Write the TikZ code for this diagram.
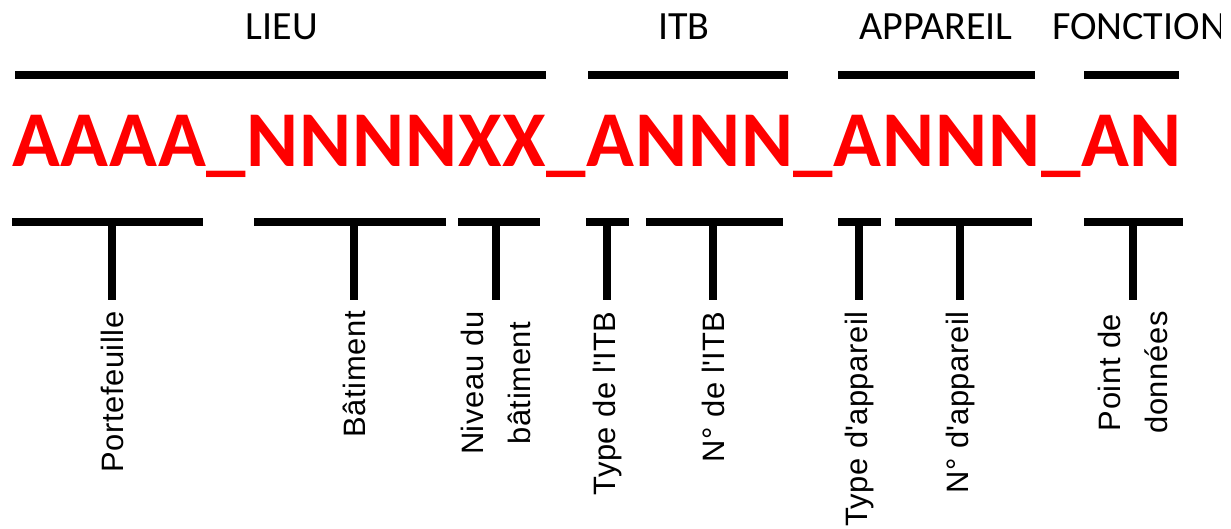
\documentclass[tikz,border=0pt]{standalone}
\usepackage{fontspec}
\setmainfont[LetterSpace = 2]{Liberation Sans}
\newfontfamily\calibri{Carlito}
\newfontfamily\calibricode[LetterSpace = 0.9]{Carlito}
\usetikzlibrary{positioning}

\begin{document}
\begin{tikzpicture}[x = 0.02cm, y = -0.02cm,
		bar/.style = {black, line width = 0.16cm},
		head/.style = {anchor = base, inner sep = 0, font = \calibri\fontsize{22.8}{27}\selectfont},
		code/.style = {anchor = base west, inner sep = 0, red, font = \calibricode\bfseries\fontsize{45}{54}\selectfont},
		part/.style = {rotate = 90, anchor = east, align = center, inner sep = 0, font = \fontsize{17.6}{26.7}\selectfont}]
					\useasboundingbox (0, 0) rectangle (1231, 528);
					\clip (0, 0) rectangle (1220, 528);
					% groups above the code
					\foreach \l/\r/\c/\n/\t in {15/546/282/lieu/LIEU, 588/788/684/itb/ITB, 838/1035/936/appareil/APPAREIL, 1084/1179/1139/fonction/FONCTION} {
						\coordinate (\n-l) at (\l, 75);
						\coordinate (\n-r) at (\r, 75);
						\draw [bar] (\n-l) -- (\n-r);
						\node (\n) at (\c, 39) [head] {\t};
					}
					\node (code) at (12, 166) [code] {AAAA\_NNNNXX\_ANNN\_ANNN\_AN};
					% fields below the code
					\foreach \l/\r/\s/\n/\t in {12/203/112/portefeuille/Portefeuille, 254/446/354/batiment/B\^atiment, 458/540/496/niveau/{Niveau du\\b\^atiment}, 586/629/607/typeitb/{Type de l\textquotesingle ITB}, 646/783/713/numitb/{N° de l\textquotesingle ITB}, 838/881/859/typeapp/{Type d\textquotesingle appareil}, 895/1032/960/numapp/{N° d\textquotesingle appareil}, 1084/1183/1133/point/{Point de\\données}} {
						\coordinate (\n-l) at (\l, 222);
						\coordinate (\n-r) at (\r, 222);
						\coordinate (\n-s) at (\s, 222);
						\coordinate (\n-t) at (\s, 300);
						\draw [bar] (\n-l) -- (\n-r);
						\draw [bar] (\n-s) -- (\n-t);
						\node (\n) at (\s, 311) [part] {\t};
					}
				\end{tikzpicture}
\end{document}
